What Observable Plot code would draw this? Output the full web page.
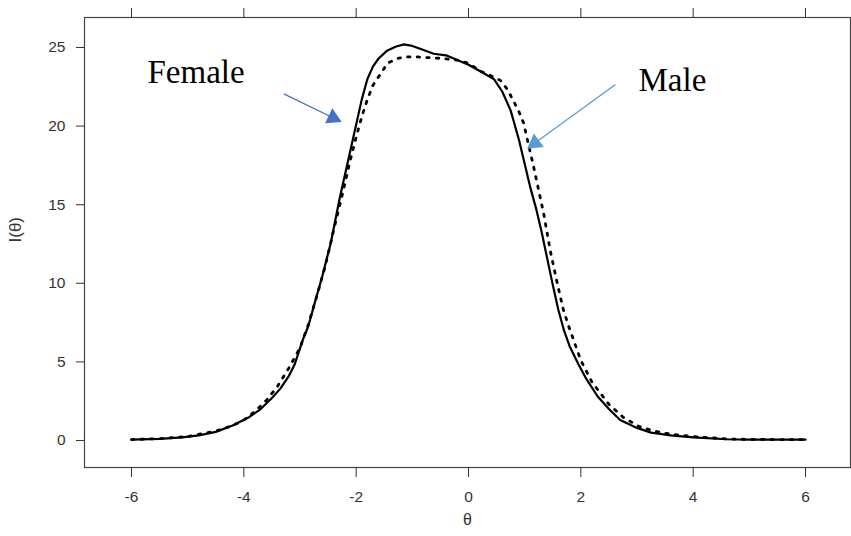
<!DOCTYPE html>
<html>
<head>
<meta charset="utf-8">
<script src="https://cdn.jsdelivr.net/npm/d3@7"></script>
<script src="https://cdn.jsdelivr.net/npm/@observablehq/plot@0.6"></script>
<style>
  html, body { margin: 0; padding: 0; background: white; }
</style>
</head>
<body>
<div id="chart"></div>
<script>
// Female (solid) test information curve
const femaleTheta = [-6, -5.5, -5.1, -4.8, -4.5, -4.2, -3.9, -3.7, -3.5, -3.35, -3.2, -3.1, -2.95, -2.85, -2.75, -2.6, -2.45, -2.3, -2.2, -2.1, -2.0, -1.9, -1.8, -1.7, -1.6, -1.45, -1.3, -1.15, -1.0, -0.85, -0.62, -0.4, -0.2, 0, 0.2, 0.45, 0.6, 0.75, 0.9, 1.0, 1.1, 1.2, 1.3, 1.4, 1.5, 1.6, 1.7, 1.8, 1.95, 2.1, 2.3, 2.5, 2.7, 3.0, 3.25, 3.6, 4.0, 4.6, 5.0, 5.5, 6];
const femaleInfo  = [0.06, 0.1, 0.2, 0.33, 0.55, 0.95, 1.5, 2.0, 2.7, 3.3, 4.1, 4.8, 6.4, 7.3, 8.6, 10.5, 12.6, 15.3, 16.9, 18.5, 20.1, 21.7, 23.0, 23.8, 24.3, 24.8, 25.05, 25.2, 25.1, 24.9, 24.6, 24.5, 24.2, 23.9, 23.5, 23.0, 22.2, 21.0, 19.1, 17.6, 16.1, 14.8, 13.3, 11.6, 9.9, 8.3, 7.0, 6.0, 4.9, 3.9, 2.8, 2.0, 1.3, 0.8, 0.5, 0.32, 0.2, 0.08, 0.06, 0.05, 0.05];

// Male (dotted) test information curve
const maleTheta = [-6, -5.5, -5.0, -4.5, -4.2, -4.0, -3.8, -3.6, -3.4, -3.2, -3.0, -2.85, -2.7, -2.55, -2.4, -2.25, -2.1, -2.0, -1.9, -1.8, -1.7, -1.57, -1.44, -1.27, -1.1, -0.91, -0.7, -0.45, -0.2, 0, 0.21, 0.4, 0.57, 0.7, 0.8, 0.9, 0.98, 1.07, 1.16, 1.25, 1.34, 1.46, 1.58, 1.69, 1.78, 1.87, 2.0, 2.1, 2.2, 2.35, 2.5, 2.76, 3.03, 3.3, 3.6, 4.0, 4.6, 5.0, 5.5, 6];
const maleInfo  = [0.06, 0.12, 0.25, 0.6, 0.95, 1.3, 1.85, 2.55, 3.45, 4.6, 5.9, 7.4, 9.2, 11.1, 13.4, 15.6, 17.9, 19.3, 20.6, 21.7, 22.6, 23.3, 24.0, 24.3, 24.4, 24.4, 24.35, 24.3, 24.2, 24.0, 23.5, 23.2, 22.9, 22.3, 21.6, 20.9, 20.2, 18.8, 17.4, 15.9, 14.4, 12.0, 10.0, 8.3, 7.3, 6.4, 5.1, 4.4, 3.7, 3.0, 2.3, 1.46, 0.9, 0.6, 0.4, 0.25, 0.1, 0.07, 0.06, 0.05];

// Axis ticks
const xTicks = [-6, -4, -2, 0, 2, 4, 6];
const yTicks = [0, 5, 10, 15, 20, 25];

// Annotations (data coordinates)
const labelText  = ["Female", "Male"];
const labelTheta = [-5.715, 3.027];
const labelInfo  = [22.77, 22.26];
const arrowFromTheta = [-3.288, 2.617];
const arrowFromInfo  = [22.05, 22.65];
const arrowHeadTheta = [-2.412, 1.182];
const arrowHeadInfo  = [20.53, 18.92];
const arrowAngle = [115.7, 233.9];
const arrowColor = ["#4472C4", "#5B9BD5"];

const female = femaleTheta.map((t, i) => ({theta: t, info: femaleInfo[i]}));
const male = maleTheta.map((t, i) => ({theta: t, info: maleInfo[i]}));
const labels = labelText.map((s, i) => ({text: s, theta: labelTheta[i], info: labelInfo[i]}));
const arrows = arrowColor.map((c, i) => ({
  x1: arrowFromTheta[i], y1: arrowFromInfo[i],
  x2: arrowHeadTheta[i], y2: arrowHeadInfo[i],
  angle: arrowAngle[i], color: c
}));

const fmt = d => `${d}`;

const chart = Plot.plot({
  width: 851,
  height: 536,
  marginLeft: 84,
  marginTop: 17,
  marginBottom: 69,
  marginRight: 1,
  style: {fontFamily: "'Liberation Sans', Arial, sans-serif", fontSize: "15.5px", color: "#333", background: "white"},
  x: {domain: [-6.837, 6.801]},
  y: {domain: [-1.718, 26.908]},
  marks: [
    Plot.frame({stroke: "#444", strokeWidth: 1.2}),
    Plot.axisX({ticks: xTicks, anchor: "bottom", tickSize: 10, tickPadding: 13, tickFormat: fmt, label: null, stroke: "#333"}),
    Plot.axisX({ticks: xTicks, anchor: "top", tickSize: 10, tickFormat: () => "", label: null, stroke: "#333"}),
    Plot.axisY({ticks: yTicks, anchor: "left", tickSize: 8, tickPadding: 11, tickFormat: fmt, label: null, stroke: "#333"}),
    Plot.text(["θ"], {frameAnchor: "bottom", dy: 57, fontSize: 16, fill: "#333"}),
    Plot.text(["I(θ)"], {frameAnchor: "left", dx: -68.5, rotate: -90, fontSize: 17, fill: "#333"}),
    Plot.line(male, {x: "theta", y: "info", stroke: "black", strokeWidth: 2.8, strokeDasharray: "2.4,7.2"}),
    Plot.line(female, {x: "theta", y: "info", stroke: "black", strokeWidth: 2.2}),
    Plot.link(arrows, {x1: "x1", y1: "y1", x2: "x2", y2: "y2", stroke: "color", strokeWidth: 1.3}),
    Plot.dot(arrows, {x: "x2", y: "y2", symbol: "triangle", r: 6.2, fill: "color", stroke: null, rotate: "angle"}),
    Plot.text(labels, {x: "theta", y: "info", text: "text", textAnchor: "start", lineAnchor: "bottom", fontFamily: "'Liberation Serif', 'Times New Roman', serif", fontSize: 33, fill: "black"})
  ]
});
document.getElementById("chart").appendChild(chart);
</script>
</body>
</html>
